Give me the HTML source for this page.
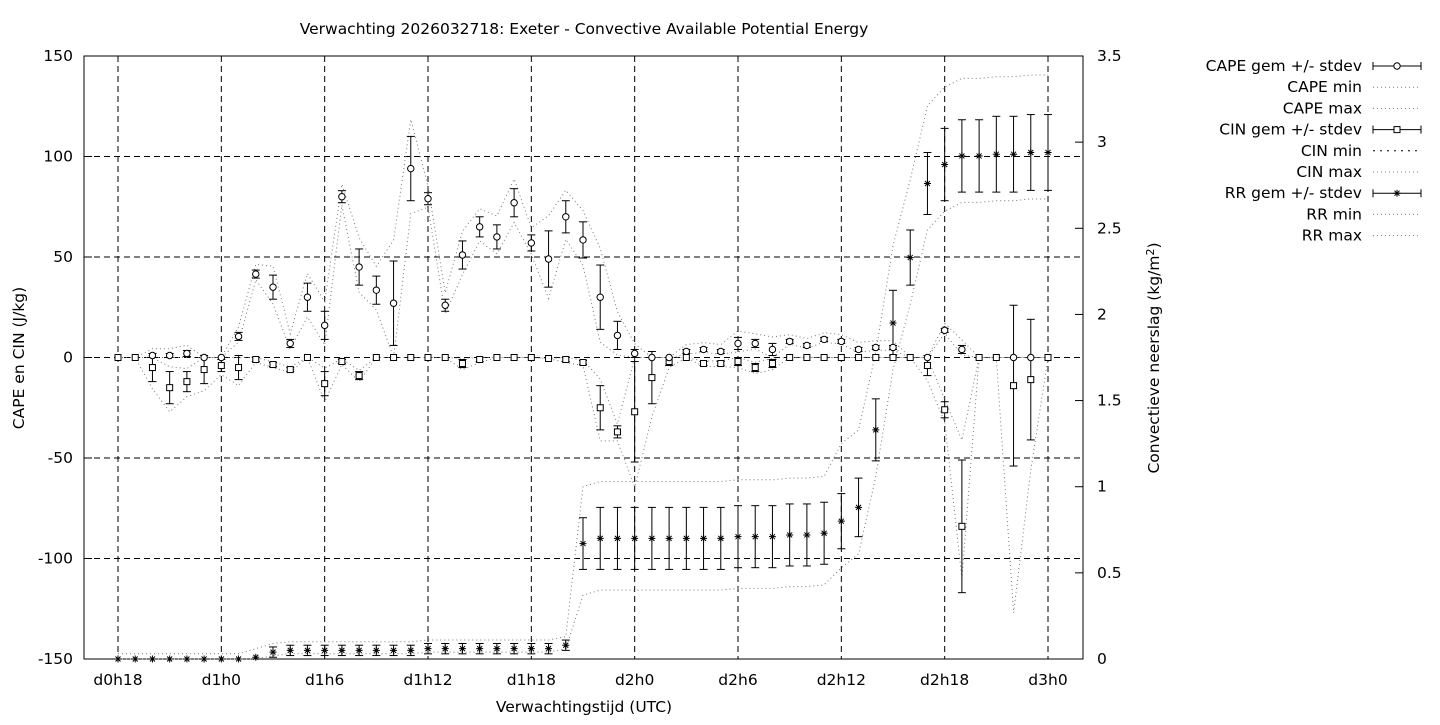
<!DOCTYPE html>
<html><head><meta charset="utf-8"><style>
html,body{margin:0;padding:0;background:#fff;}
svg text{font-family:"DejaVu Sans","Liberation Sans",sans-serif;font-size:15.5px;fill:#000;}
</style></head><body>
<svg id="s" width="1440" height="720" xmlns="http://www.w3.org/2000/svg"></svg>
<script>
const s=document.getElementById('s');let h='';
const X0=84,X1=1083,Y0=56,Y1=659;
const xi=i=>118+i*(1048-118)/54;
const yl=v=>357.5-v*(603/300);
const yr=v=>659-v*(603/3.5);
h+=`<rect x="${X0}" y="${Y0}" width="${X1-X0}" height="${Y1-Y0}" fill="none" stroke="#000" stroke-width="1"/>`;
const xt=['d0h18','d1h0','d1h6','d1h12','d1h18','d2h0','d2h6','d2h12','d2h18','d3h0'];
xt.forEach((t,k)=>{const x=xi(k*6);h+=`<line x1="${x}" y1="${Y0}" x2="${x}" y2="${Y1}" stroke="#000" stroke-dasharray="6,4"/>`;
h+=`<text x="${x}" y="685" text-anchor="middle">${t}</text>`;});
[150,100,50,0,-50,-100,-150].forEach(v=>{const y=yl(v);if(v<150&&v>-150)h+=`<line x1="${X0}" y1="${y}" x2="${X1}" y2="${y}" stroke="#000" stroke-dasharray="6,4"/>`;
h+=`<line x1="${X0}" y1="${y}" x2="${X0+8}" y2="${y}" stroke="#000"/><text x="73" y="${y+5}" text-anchor="end">${v}</text>`;});
for(let v=0;v<=3.5;v+=0.5){const y=yr(v);h+=`<line x1="${X1-8}" y1="${y}" x2="${X1}" y2="${y}" stroke="#000"/><text x="1097" y="${y+5}">${v}</text>`;}
h+=`<text x="584" y="34" text-anchor="middle">Verwachting 2026032718: Exeter - Convective Available Potential Energy</text>`;
h+=`<text x="584" y="712" text-anchor="middle">Verwachtingstijd (UTC)</text>`;
h+=`<text transform="translate(24,358) rotate(-90)" text-anchor="middle">CAPE en CIN (J/kg)</text>`;
h+=`<text transform="translate(1159,358) rotate(-90)" text-anchor="middle">Convectieve neerslag (kg/m<tspan dy="-5" font-size="11">2</tspan><tspan dy="5">)</tspan></text>`;
const cape=[0,0,1,1,2,0,0,10.5,41.5,35,7,30,16,80,45,33.5,27,94,79,26,51,65,60,77,57,49,70,58.5,30,11,2,0,0,3,4,3,7,7,4,8,6,9,8,4,5,5,0,0,13.5,4,0,0,0,0,0];
const capeS=[0,0,1,1,1.5,0,0,2,2,6,2,7,7,3,9,7,21,16,3,3,7,5,6,7,4,14,8,9,16,7,2,0,0,1,1,1,3,2,3,1,1,1,1,1,1,1,0,0,1,2,0,0,0,0,0];
const cin=[0,0,-5,-15,-12,-6,-4,-5,-1,-3.5,-6,0,-13,-2,-9,0,0,0,0,0,-3,-1,0,0,0,-0.5,-1,-2.5,-25,-37,-27,-10,-2,0,-3,-3,-2,-5,-3,0,0,0,0,0,0,0,0,-4,-26,-84,0,0,-14,-11,0];
const cinS=[0,0,7,8,5,7,3,6,1,1,1,0,6,1,2,0,0,0,0,0,2,1,0,0,0,0,1,1,11,3,25,13,2,0,1,1,2,2,2,0,0,0,0,0,0,0,0,5,4,33,0,0,40,30,0];
const rr=[0,0,0,0,0,0,0,0,0.01,0.04,0.05,0.05,0.05,0.05,0.05,0.05,0.05,0.05,0.06,0.06,0.06,0.06,0.06,0.06,0.06,0.06,0.08,0.67,0.7,0.7,0.7,0.7,0.7,0.7,0.7,0.7,0.71,0.71,0.71,0.72,0.72,0.73,0.8,0.88,1.33,1.95,2.33,2.76,2.87,2.92,2.92,2.93,2.93,2.94,2.94];
const rrS=[0,0,0,0,0,0,0,0,0,0.03,0.03,0.03,0.03,0.03,0.03,0.03,0.03,0.03,0.03,0.03,0.03,0.03,0.03,0.03,0.03,0.03,0.03,0.15,0.18,0.18,0.18,0.18,0.18,0.18,0.18,0.18,0.18,0.18,0.18,0.18,0.18,0.18,0.16,0.17,0.18,0.19,0.16,0.18,0.21,0.21,0.21,0.22,0.22,0.22,0.22];
function dotted(arr,fy,f){let p=arr.map((v,i)=>`${xi(i).toFixed(1)},${fy(f(v,i)).toFixed(1)}`).join(' ');
h+=`<polyline points="${p}" fill="none" stroke="#777" stroke-width="1" stroke-dasharray="1,3"/>`;}
dotted(cape,yl,(v,i)=>v+1.4*capeS[i]+ (v>0?2:0));
dotted(cape,yl,(v,i)=>Math.max(0,v-1.4*capeS[i]));
dotted(cin,yl,(v,i)=>Math.min(0,v+1.3*cinS[i]));
dotted(cin,yl,(v,i)=>i==52?-127:(i==49?-110:v-1.5*cinS[i]));
dotted(rr,yr,(v,i)=>i<8?0.03:v+(i<27?0.05:(i<42?0.33:0.45)));
dotted(rr,yr,(v,i)=>i<27?Math.max(0,v-0.02):v-(i<42?0.3:0.27));
function eb(x,ya,yb){h+=`<line x1="${x}" y1="${ya}" x2="${x}" y2="${yb}" stroke="#000"/><line x1="${x-4}" y1="${ya}" x2="${x+4}" y2="${ya}" stroke="#000"/><line x1="${x-4}" y1="${yb}" x2="${x+4}" y2="${yb}" stroke="#000"/>`;}
function star(x,y){h+=`<path d="M${x-3.5},${y}h7M${x},${y-3.5}v7M${x-2.5},${y-2.5}l5,5M${x-2.5},${y+2.5}l5,-5" stroke="#000" fill="none"/>`;}
rr.forEach((v,i)=>{const x=xi(i);if(rrS[i]>0)eb(x,yr(v+rrS[i]),yr(v-rrS[i]));star(x,yr(v));});
cin.forEach((v,i)=>{const x=xi(i);if(cinS[i]>0)eb(x,yl(v+cinS[i]),yl(v-cinS[i]));h+=`<rect x="${x-3}" y="${yl(v)-3}" width="6" height="6" fill="#fff" stroke="#000"/>`;});
cape.forEach((v,i)=>{const x=xi(i);if(capeS[i]>0)eb(x,yl(v+capeS[i]),yl(v-capeS[i]));if(!(v==0&&cin[i]==0))h+=`<circle cx="${x}" cy="${yl(v)}" r="3.2" fill="#fff" stroke="#000"/>`;});
const L=[['CAPE gem +/- stdev','c'],['CAPE min','d'],['CAPE max','d'],['CIN gem +/- stdev','s'],['CIN min','d2'],['CIN max','d'],['RR gem +/- stdev','x'],['RR min','d'],['RR max','d']];
L.forEach((l,k)=>{const y=66+k*21.2;h+=`<text x="1362" y="${y+5}" text-anchor="end">${l[0]}</text>`;
if(l[1]=='d'||l[1]=='d2')h+=`<line x1="1373" y1="${y}" x2="1421" y2="${y}" stroke="${l[1]=='d2'?'#000':'#777'}" stroke-dasharray="${l[1]=='d2'?'2,5':'1,3'}"/>`;
else{h+=`<line x1="1373" y1="${y}" x2="1421" y2="${y}" stroke="#000"/><line x1="1373" y1="${y-4}" x2="1373" y2="${y+4}" stroke="#000"/><line x1="1421" y1="${y-4}" x2="1421" y2="${y+4}" stroke="#000"/>`;
if(l[1]=='c')h+=`<circle cx="1397" cy="${y}" r="3.2" fill="#fff" stroke="#000"/>`;
if(l[1]=='s')h+=`<rect x="1394" y="${y-3}" width="6" height="6" fill="#fff" stroke="#000"/>`;
if(l[1]=='x')star(1397,y);}});
s.innerHTML=h;
</script>
</body></html>
